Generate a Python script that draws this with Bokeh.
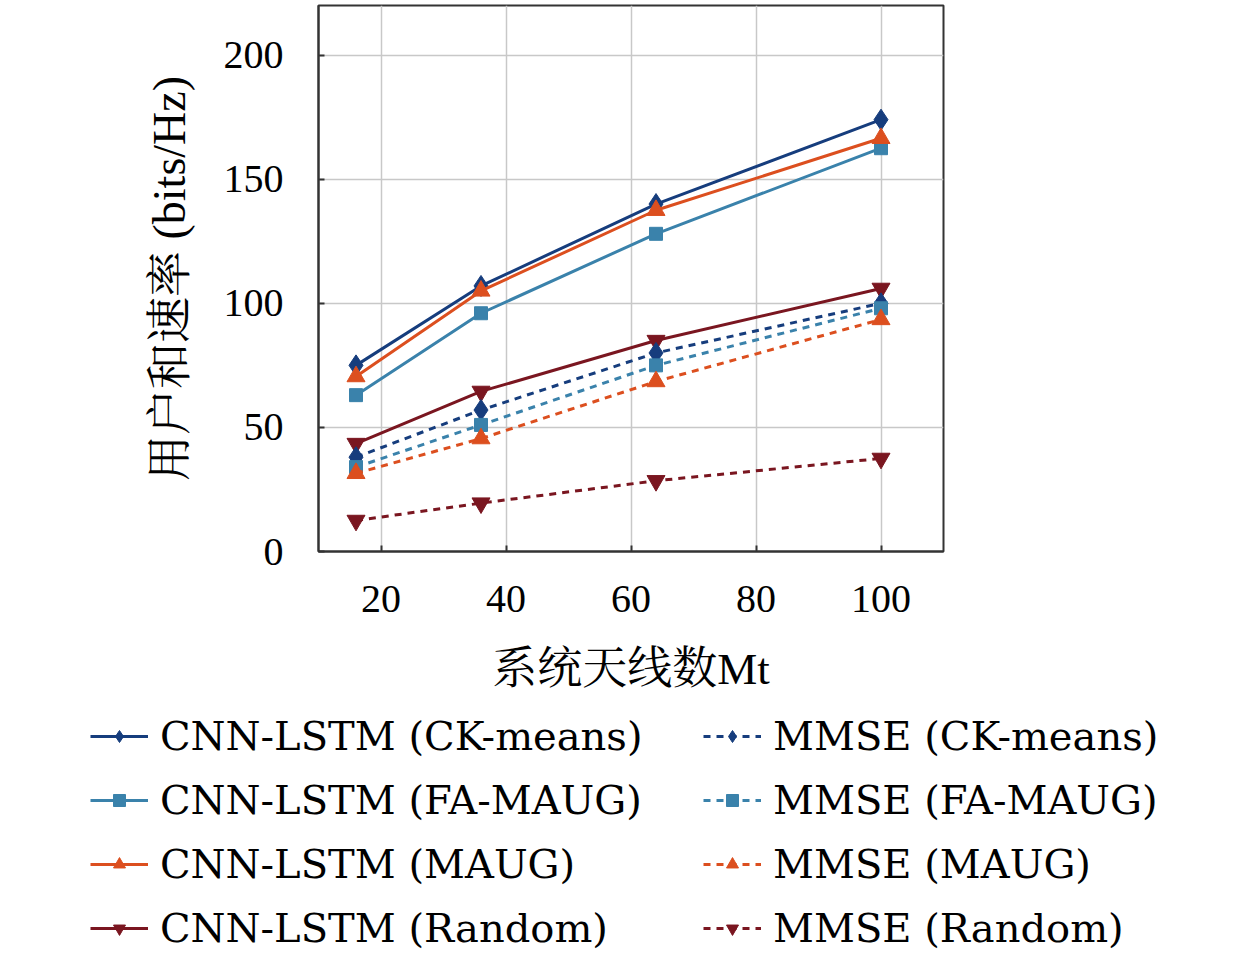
from bokeh.plotting import figure
from bokeh.models import Legend, LegendItem, Range1d, FixedTicker
from bokeh.embed import file_html
from bokeh.resources import INLINE

antennas = [16, 36, 64, 100]
cnn_ckmeans = [75.0, 107.0, 140.0, 174.0]
cnn_famaug = [63.0, 96.0, 128.0, 162.5]
cnn_maug = [70.5, 105.0, 137.5, 166.5]
cnn_random = [43.5, 64.5, 85.0, 106.0]
mmse_ckmeans = [38.0, 57.0, 80.0, 100.0]
mmse_famaug = [34.0, 51.0, 75.0, 98.0]
mmse_maug = [31.5, 45.5, 68.5, 93.5]
mmse_random = [12.5, 19.5, 28.5, 37.5]

labels = [
    "CNN-LSTM (CK-means)", "CNN-LSTM (FA-MAUG)", "CNN-LSTM (MAUG)", "CNN-LSTM (Random)",
    "MMSE (CK-means)", "MMSE (FA-MAUG)", "MMSE (MAUG)", "MMSE (Random)",
]
series = [cnn_ckmeans, cnn_famaug, cnn_maug, cnn_random,
          mmse_ckmeans, mmse_famaug, mmse_maug, mmse_random]
colors = ["#163d7d", "#3a82ab", "#dc4f1f", "#7a1620"] * 2
markers = ["diamond", "square", "triangle", "inverted_triangle"] * 2
sizes = [21, 13, 18, 18] * 2
dashes = ["solid"] * 4 + ["7 6"] * 4

x_ticks = [20, 40, 60, 80, 100]
y_ticks = [0, 50, 100, 150, 200]

SERIF = "'Liberation Serif', 'Noto Serif CJK SC', 'Noto Sans CJK SC'"
LEG_FONT = "'DejaVu Serif'"

# ---- main chart ----
p = figure(width=1240, height=700, output_backend="svg", toolbar_location=None,
           x_range=Range1d(10, 110), y_range=Range1d(0, 220),
           min_border_left=318, min_border_right=297, min_border_top=5,
           min_border_bottom=149)

for ys, c, m, s, d in zip(series, colors, markers, sizes, dashes):
    p.line(antennas, ys, line_color=c, line_width=3, line_dash=d)
    p.scatter(antennas, ys, marker=m, size=s, fill_color=c, line_color=c)

p.outline_line_color = "#333333"
p.outline_line_width = 2
p.background_fill_color = "white"
p.border_fill_color = "white"

p.xgrid.grid_line_color = "#c8c8c8"
p.ygrid.grid_line_color = "#c8c8c8"
p.xgrid.grid_line_width = 1.5
p.ygrid.grid_line_width = 1.5

for ax in (p.xaxis[0], p.yaxis[0]):
    ax.axis_line_color = "#333333"
    ax.axis_line_width = 2
    ax.major_tick_in = 6
    ax.major_tick_out = 0
    ax.minor_tick_in = 0
    ax.minor_tick_out = 0
    ax.major_tick_line_color = "#333333"
    ax.major_tick_line_width = 2
    ax.major_label_text_font = SERIF
    ax.major_label_text_font_size = "40px"
    ax.major_label_text_color = "black"
    ax.axis_label_text_font = SERIF
    ax.axis_label_text_font_style = "normal"
    ax.axis_label_text_color = "black"

p.xaxis.axis_label_text_font_size = "45px"
p.yaxis.axis_label_text_font_size = "46px"
p.xaxis.ticker = FixedTicker(ticks=x_ticks)
p.yaxis.ticker = FixedTicker(ticks=y_ticks)
p.xaxis.axis_label = "系统天线数Mt"
p.yaxis.axis_label = "用户和速率 (bits/Hz)"
p.xaxis.major_label_standoff = 34
p.xaxis.axis_label_standoff = 29
p.yaxis.major_label_standoff = 35
p.yaxis.axis_label_standoff = 26

# ---- legend panel (same series; data lie outside this panel's ranges) ----
lf = figure(width=1240, height=255, output_backend="svg", toolbar_location=None,
            x_range=Range1d(-20, -19), y_range=Range1d(-20, -19),
            x_axis_type=None, y_axis_type=None,
            min_border_left=90, min_border_right=0, min_border_top=13,
            min_border_bottom=0)
lf.grid.visible = False
lf.outline_line_color = None
lf.background_fill_color = "white"
lf.border_fill_color = "white"

items = []
for lab, ys, c, m, d in zip(labels, series, colors, markers, dashes):
    r1 = lf.line(antennas, ys, line_color=c, line_width=3, line_dash=d)
    r2 = lf.scatter(antennas, ys, marker=m, size=10, fill_color=c, line_color=c)
    items.append(LegendItem(label=lab, renderers=[r1, r2]))

legend = Legend(items=items, nrows=4, ncols=2, orientation="vertical",
                label_text_font=LEG_FONT, label_text_font_size="40px",
                label_text_color="black", glyph_width=58, glyph_height=30,
                label_standoff=12, spacing=18, border_line_color=None,
                background_fill_alpha=0, location="top_left",
                margin=0, padding=0, label_height=40, label_width=525)
lf.add_layout(legend, "center")

open("out.html", "w").write(file_html([p, lf], INLINE))
